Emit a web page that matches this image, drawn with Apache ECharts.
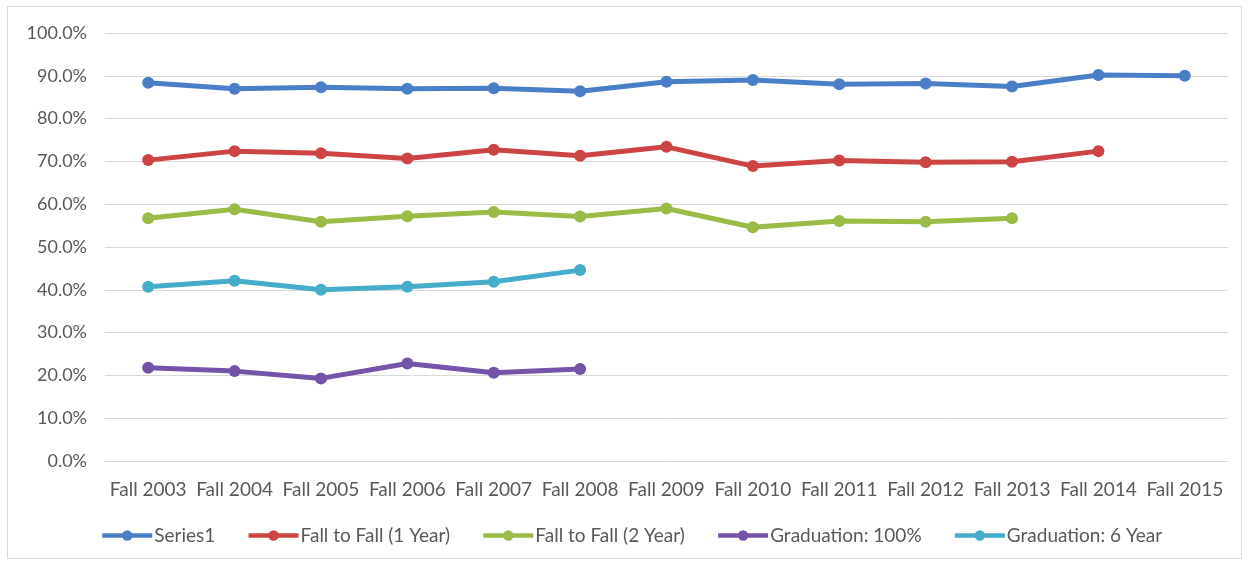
<!DOCTYPE html>
<html><head><meta charset="utf-8">
<script src="https://cdn.jsdelivr.net/npm/echarts@6/dist/echarts.min.js"></script>
<style>html,body{margin:0;padding:0;background:#fff}#c{width:1250px;height:565px;position:relative}
#frame{position:absolute;left:7px;top:6px;width:1235px;height:553px;border:1px solid #d9d9d9;box-sizing:border-box;pointer-events:none}</style>
</head><body><div id="c"></div><div id="frame"></div>
<script>
const categories = ["Fall 2003","Fall 2004","Fall 2005","Fall 2006","Fall 2007","Fall 2008","Fall 2009","Fall 2010","Fall 2011","Fall 2012","Fall 2013","Fall 2014","Fall 2015"];
const series1 = [88.4,87.0,87.3,87.0,87.1,86.4,88.6,89.0,88.0,88.2,87.5,90.2,90.0];
const fallToFall1 = [70.3,72.4,71.9,70.7,72.7,71.3,73.4,68.9,70.2,69.8,69.9,72.4,null];
const fallToFall2 = [56.7,58.8,55.9,57.2,58.2,57.1,59.0,54.6,56.1,55.9,56.7,null,null];
const grad100 = [21.8,21.0,19.3,22.8,20.6,21.5,null,null,null,null,null,null,null];
const grad6 = [40.7,42.1,40.0,40.7,41.9,44.6,null,null,null,null,null,null,null];
const seriesNames = ["Series1","Fall to Fall (1 Year)","Fall to Fall (2 Year)","Graduation: 100%","Graduation: 6 Year"];
const colors = ["#4a7ec6","#cc4444","#9bbb47","#7454a8","#45adc9"];
const yTicks = {min:0,max:100,interval:10};

const font = "Lato, 'Open Sans', sans-serif";
const chart = echarts.init(document.getElementById('c'));
const data = [series1, fallToFall1, fallToFall2, grad100, grad6];
chart.setOption({
  animation:false,
  color: colors,
  grid:{left:105,right:22,top:33,bottom:104,containLabel:false},
  legend:{
    top:526,left:100,padding:0,itemWidth:50,itemHeight:13,itemGap:31,
    lineStyle:{width:4.5},
    textStyle:{fontFamily:font,fontSize:19,color:'#595959',padding:[0,0,0,-3]},
    data: seriesNames
  },
  xAxis:{type:'category',data:categories,boundaryGap:true,
    axisLine:{show:true,lineStyle:{color:'#d9d9d9'}},axisTick:{show:false},
    axisLabel:{fontFamily:font,fontSize:19,color:'#595959',margin:19,interval:0}},
  yAxis:{type:'value',min:yTicks.min,max:yTicks.max,interval:yTicks.interval,
    axisLine:{show:false},axisTick:{show:false},
    splitLine:{lineStyle:{color:'#d9d9d9',width:1}},
    axisLabel:{fontFamily:font,fontSize:18,color:'#595959',margin:18,formatter:v=>v.toFixed(1)+'%'}},
  series: seriesNames.map((n,i)=>({
    name:n,type:'line',data:data[i],symbol:'circle',symbolSize:12,
    lineStyle:{width:5},connectNulls:false
  }))
});
</script></body></html>
